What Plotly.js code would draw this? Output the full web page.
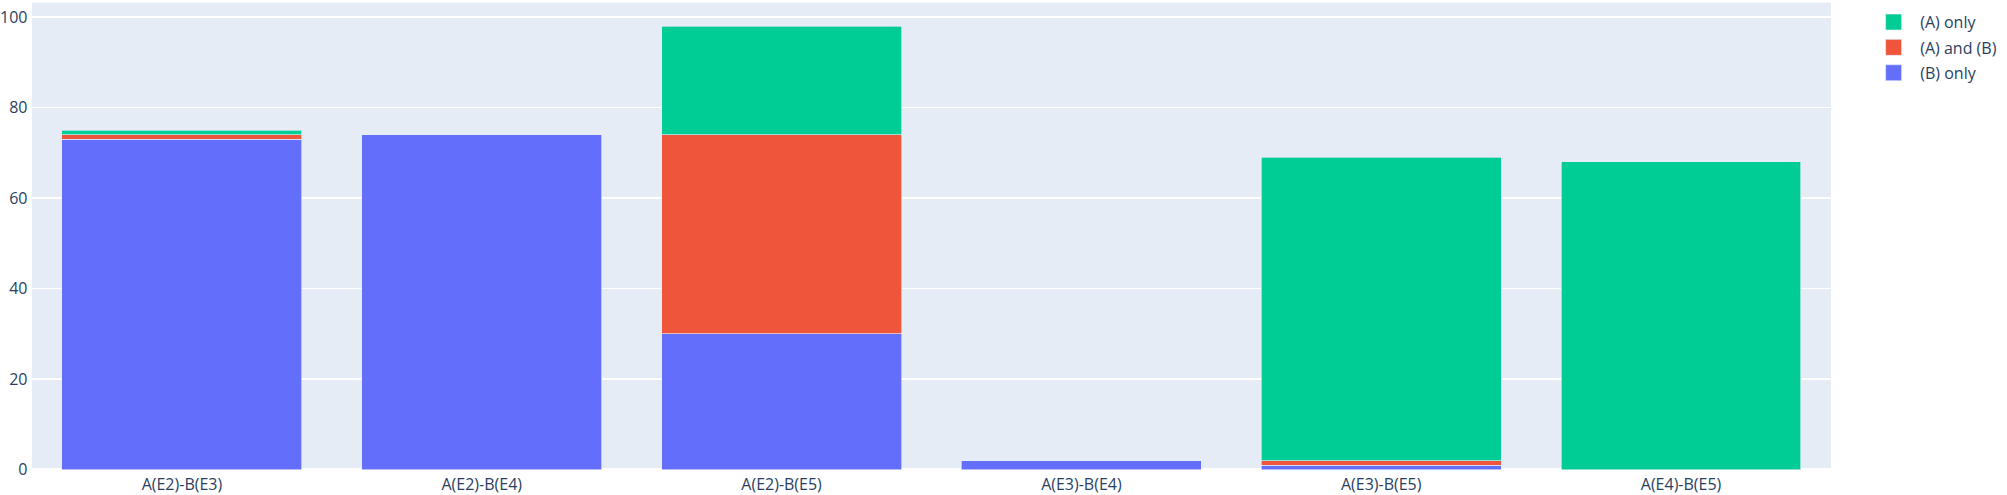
<!DOCTYPE html>
<html><head><meta charset="utf-8">
<script src="https://cdn.plot.ly/plotly-3.0.1.min.js"></script>
<style>
html,body{margin:0;padding:0;overflow:hidden;width:2007px;height:495px;background:#fff;}
#chart{width:1505px;height:371px;transform:scale(1.33355,1.33423);transform-origin:0 0;}
</style>
</head><body><div id="chart"></div>
<script>
const categories = ["A(E2)-B(E3)", "A(E2)-B(E4)", "A(E2)-B(E5)", "A(E3)-B(E4)", "A(E3)-B(E5)", "A(E4)-B(E5)"];
const bOnly = [73, 74, 30, 2, 1, 0];
const aAndB = [1, 0, 44, 0, 1, 0];
const aOnly = [1, 0, 24, 0, 67, 68];

const lineStyle = {width: 0.5, color: '#E5ECF6'};
const traces = [
  {type: 'bar', name: '(B) only', x: categories, y: bOnly, marker: {color: '#636efa', line: lineStyle}},
  {type: 'bar', name: '(A) and (B)', x: categories, y: aAndB, marker: {color: '#EF553B', line: lineStyle}},
  {type: 'bar', name: '(A) only', x: categories, y: aOnly, marker: {color: '#00cc96', line: lineStyle}}
];
const layout = {
  barmode: 'stack',
  width: 1505, height: 371,
  margin: {l: 24, r: 128, t: 2, b: 19},
  paper_bgcolor: '#ffffff',
  plot_bgcolor: '#E5ECF6',
  font: {family: '"Open Sans", verdana, arial, sans-serif', size: 12, color: '#2a3f5f'},
  xaxis: {showgrid: false, linecolor: 'white', ticks: '', zeroline: false},
  yaxis: {gridcolor: 'white', gridwidth: 1, linecolor: 'white', ticks: '', zerolinecolor: 'white', zerolinewidth: 2},
  legend: {traceorder: 'reversed'},
  showlegend: true
};
Plotly.newPlot('chart', traces, layout, {displayModeBar: false});
</script></body></html>
